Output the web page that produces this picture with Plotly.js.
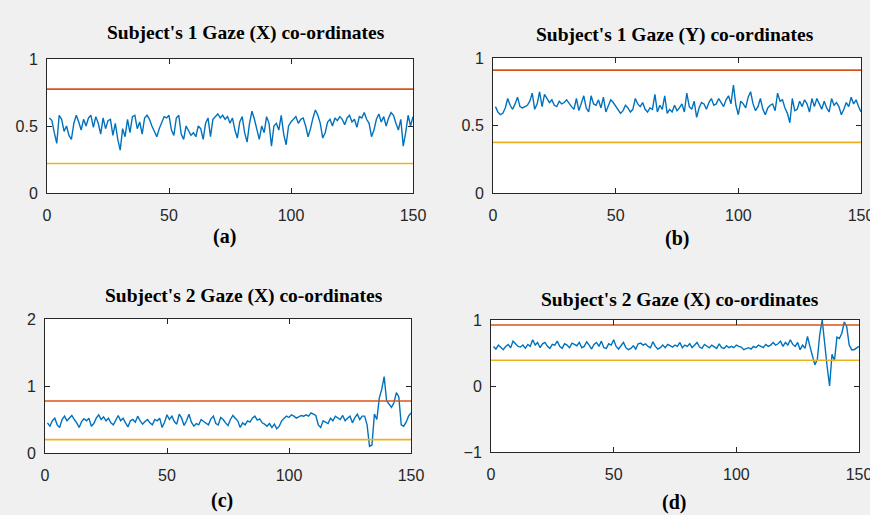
<!DOCTYPE html>
<html>
<head>
<meta charset="utf-8">
<script src="https://cdn.plot.ly/plotly-3.0.1.min.js"></script>
<style>
html,body{margin:0;padding:0;background:#f0f0f0;}
#chart{width:870px;height:515px;}
</style>
</head>
<body>
<div id="chart"></div>
<script>
// Sample index (1..150)
var sampleIdx = [];
for (var k = 1; k <= 150; k++) sampleIdx.push(k);

// Subject 1 gaze X
var gaze1X = [
0.56,0.54,0.45,0.37,0.58,0.55,0.46,0.50,0.43,0.40,
0.52,0.58,0.53,0.47,0.55,0.50,0.56,0.58,0.49,0.57,
0.52,0.44,0.56,0.48,0.54,0.55,0.43,0.52,0.40,0.32,
0.48,0.42,0.55,0.45,0.57,0.58,0.48,0.53,0.44,0.56,
0.58,0.55,0.50,0.46,0.42,0.48,0.53,0.57,0.56,0.58,
0.47,0.43,0.56,0.58,0.44,0.40,0.50,0.46,0.43,0.45,
0.42,0.50,0.48,0.40,0.52,0.56,0.42,0.55,0.57,0.59,
0.56,0.58,0.55,0.57,0.52,0.56,0.47,0.41,0.53,0.57,
0.45,0.38,0.52,0.61,0.55,0.47,0.40,0.50,0.45,0.57,
0.52,0.35,0.50,0.52,0.47,0.58,0.44,0.36,0.50,0.53,
0.55,0.57,0.52,0.55,0.56,0.50,0.42,0.48,0.56,0.62,
0.58,0.52,0.41,0.45,0.53,0.55,0.50,0.56,0.54,0.57,
0.55,0.51,0.56,0.58,0.53,0.55,0.49,0.57,0.56,0.60,
0.55,0.52,0.42,0.47,0.55,0.59,0.53,0.57,0.50,0.56,
0.60,0.58,0.52,0.47,0.55,0.35,0.45,0.58,0.50,0.57];
var upper1X = 0.775, lower1X = 0.22;

// Subject 1 gaze Y
var gaze1Y = [
0.64,0.60,0.58,0.59,0.63,0.70,0.65,0.62,0.66,0.71,
0.64,0.63,0.64,0.65,0.68,0.74,0.62,0.66,0.75,0.64,
0.73,0.70,0.67,0.69,0.65,0.64,0.68,0.66,0.67,0.69,
0.66,0.64,0.62,0.70,0.61,0.66,0.72,0.63,0.60,0.72,
0.66,0.65,0.69,0.63,0.71,0.60,0.65,0.69,0.67,0.64,
0.62,0.59,0.61,0.65,0.63,0.60,0.62,0.70,0.66,0.64,
0.67,0.62,0.60,0.63,0.62,0.73,0.60,0.65,0.62,0.72,
0.59,0.62,0.60,0.65,0.61,0.63,0.66,0.60,0.74,0.64,
0.62,0.68,0.56,0.63,0.67,0.66,0.62,0.67,0.70,0.65,
0.66,0.70,0.67,0.64,0.69,0.72,0.66,0.80,0.65,0.58,
0.68,0.66,0.63,0.71,0.75,0.66,0.61,0.64,0.70,0.62,
0.58,0.63,0.65,0.66,0.61,0.74,0.68,0.69,0.63,0.59,
0.52,0.70,0.61,0.62,0.68,0.64,0.69,0.66,0.60,0.70,
0.64,0.70,0.66,0.62,0.68,0.63,0.60,0.70,0.65,0.67,
0.64,0.58,0.62,0.67,0.64,0.71,0.66,0.69,0.64,0.60];
var upper1Y = 0.91, lower1Y = 0.375;

// Subject 2 gaze X (c)
var gaze2Xc = [
0.45,0.40,0.48,0.52,0.42,0.38,0.50,0.55,0.48,0.52,
0.56,0.50,0.45,0.38,0.47,0.51,0.48,0.52,0.40,0.44,
0.52,0.57,0.50,0.54,0.48,0.52,0.45,0.42,0.49,0.56,
0.48,0.52,0.45,0.39,0.48,0.50,0.46,0.55,0.48,0.43,
0.47,0.50,0.45,0.42,0.50,0.48,0.52,0.38,0.46,0.57,
0.50,0.55,0.47,0.43,0.58,0.52,0.41,0.48,0.58,0.46,
0.40,0.44,0.42,0.50,0.47,0.45,0.42,0.51,0.55,0.44,
0.42,0.53,0.50,0.45,0.41,0.50,0.56,0.52,0.48,0.38,
0.45,0.42,0.48,0.46,0.52,0.55,0.49,0.51,0.45,0.43,
0.40,0.44,0.38,0.43,0.36,0.40,0.48,0.52,0.55,0.53,
0.57,0.55,0.52,0.54,0.56,0.55,0.57,0.55,0.60,0.58,
0.56,0.42,0.38,0.48,0.46,0.44,0.52,0.48,0.55,0.52,
0.50,0.56,0.48,0.52,0.55,0.45,0.53,0.58,0.50,0.55,
0.55,0.42,0.10,0.12,0.58,0.50,0.82,0.95,1.14,0.78,
0.72,0.68,0.75,0.90,0.84,0.42,0.40,0.46,0.55,0.60];
var upper2Xc = 0.775, lower2Xc = 0.2;

// Subject 2 gaze X (d)
var gaze2Xd = [
0.60,0.56,0.62,0.58,0.55,0.60,0.63,0.58,0.68,0.64,
0.60,0.59,0.62,0.57,0.63,0.60,0.70,0.62,0.66,0.58,
0.64,0.66,0.60,0.57,0.63,0.62,0.68,0.60,0.57,0.64,
0.62,0.58,0.65,0.63,0.61,0.66,0.58,0.60,0.67,0.62,
0.56,0.63,0.66,0.60,0.68,0.58,0.57,0.64,0.62,0.70,
0.60,0.56,0.62,0.66,0.58,0.55,0.57,0.61,0.56,0.64,
0.65,0.62,0.64,0.60,0.58,0.67,0.60,0.56,0.58,0.62,
0.58,0.63,0.61,0.59,0.62,0.60,0.66,0.58,0.62,0.60,
0.64,0.58,0.62,0.66,0.59,0.57,0.63,0.60,0.58,0.62,
0.60,0.57,0.64,0.58,0.57,0.61,0.58,0.60,0.58,0.62,
0.60,0.59,0.55,0.57,0.58,0.56,0.60,0.58,0.62,0.60,
0.58,0.63,0.60,0.62,0.66,0.62,0.64,0.68,0.60,0.66,
0.62,0.70,0.63,0.60,0.66,0.55,0.62,0.57,0.75,0.60,
0.45,0.32,0.40,0.78,1.00,0.62,0.30,0.00,0.48,0.38,
0.74,0.72,0.80,0.97,0.90,0.62,0.55,0.55,0.58,0.60];
var upper2Xd = 0.925, lower2Xd = 0.39;

var titles = ["Subject's 1 Gaze (X) co-ordinates","Subject's 1 Gaze (Y) co-ordinates",
              "Subject's 2 Gaze (X) co-ordinates","Subject's 2 Gaze (X) co-ordinates"];
var panelLabels = ["(a)","(b)","(c)","(d)"];
var xTicks = [0,50,100,150];
var yTicksA = [0,0.5,1], yTicksB = [0,0.5,1], yTicksC = [0,1,2], yTicksD = [-1,0,1];

var BLUE = '#0072BD', ORANGE = '#D95319', YELLOW = '#EDB120';

var series = [
  {y: gaze1X, up: upper1X, lo: lower1X, ax: ''},
  {y: gaze1Y, up: upper1Y, lo: lower1Y, ax: '2'},
  {y: gaze2Xc, up: upper2Xc, lo: lower2Xc, ax: '3'},
  {y: gaze2Xd, up: upper2Xd, lo: lower2Xd, ax: '4'}
];

var traces = [];
series.forEach(function(s){
  var xa = 'x' + s.ax, ya = 'y' + s.ax;
  traces.push({x: sampleIdx, y: s.y, type: 'scatter', mode: 'lines', xaxis: xa, yaxis: ya,
               line: {color: BLUE, width: 1.4}, hoverinfo: 'skip'});
  traces.push({x: [0,150], y: [s.up, s.up], type: 'scatter', mode: 'lines', xaxis: xa, yaxis: ya,
               line: {color: ORANGE, width: 1.6}, hoverinfo: 'skip'});
  traces.push({x: [0,150], y: [s.lo, s.lo], type: 'scatter', mode: 'lines', xaxis: xa, yaxis: ya,
               line: {color: YELLOW, width: 1.6}, hoverinfo: 'skip'});
});

var tickFont = {family: 'Liberation Sans, Arial', size: 16, color: '#262626'};
function xax(dom, anchor){
  return {domain: dom, anchor: anchor, range: [0,150], tickvals: xTicks, ticks: 'inside', ticklen: 5,
          tickcolor: '#262626', showline: true, linecolor: '#262626', linewidth: 1, mirror: 'ticks',
          showgrid: false, zeroline: false, tickfont: tickFont, ticklabeloverflow: 'allow',
          ticklabelstandoff: 8, fixedrange: true};
}
function yax(dom, anchor, rng, tv){
  return {domain: dom, anchor: anchor, range: rng, tickvals: tv, ticks: 'inside', ticklen: 5,
          tickcolor: '#262626', showline: true, linecolor: '#262626', linewidth: 1, mirror: 'ticks',
          showgrid: false, zeroline: false, tickfont: tickFont, ticklabeloverflow: 'allow',
          ticklabelstandoff: 5, fixedrange: true};
}

var W = 870, H = 515;
function ann(text, px, py, size){
  return {text: text, x: px / W, y: 1 - py / H, xref: 'paper', yref: 'paper', xanchor: 'center', yanchor: 'middle',
          showarrow: false, font: {family: 'Liberation Serif, Times New Roman', size: size, color: '#000'}};
}

var layout = {
  width: W, height: H, margin: {l: 0, r: 0, t: 0, b: 0},
  paper_bgcolor: '#f0f0f0', plot_bgcolor: '#ffffff', showlegend: false,
  xaxis: xax([47/W, 413/W], 'y'),
  yaxis: yax([1 - 193/H, 1 - 59/H], 'x', [0,1], yTicksA),
  xaxis2: xax([493/W, 861/W], 'y2'),
  yaxis2: yax([1 - 193/H, 1 - 58/H], 'x2', [0,1], yTicksB),
  xaxis3: xax([45/W, 411/W], 'y3'),
  yaxis3: yax([1 - 453/H, 1 - 319/H], 'x3', [0,2], yTicksC),
  xaxis4: xax([491/W, 859/W], 'y4'),
  yaxis4: yax([1 - 452/H, 1 - 320/H], 'x4', [-1,1], yTicksD),
  annotations: [
    ann('<b>' + titles[0] + '</b>', 246, 33, 19.5),
    ann('<b>' + titles[1] + '</b>', 675, 35, 19.5),
    ann('<b>' + titles[2] + '</b>', 244, 296, 19.5),
    ann('<b>' + titles[3] + '</b>', 680, 300, 19.5),
    ann('<b>' + panelLabels[0] + '</b>', 224, 236, 20),
    ann('<b>' + panelLabels[1] + '</b>', 677, 238, 20),
    ann('<b>' + panelLabels[2] + '</b>', 222, 500, 20),
    ann('<b>' + panelLabels[3] + '</b>', 674, 502, 20)
  ]
};

Plotly.newPlot('chart', traces, layout, {staticPlot: true, displayModeBar: false});
</script>
</body>
</html>
